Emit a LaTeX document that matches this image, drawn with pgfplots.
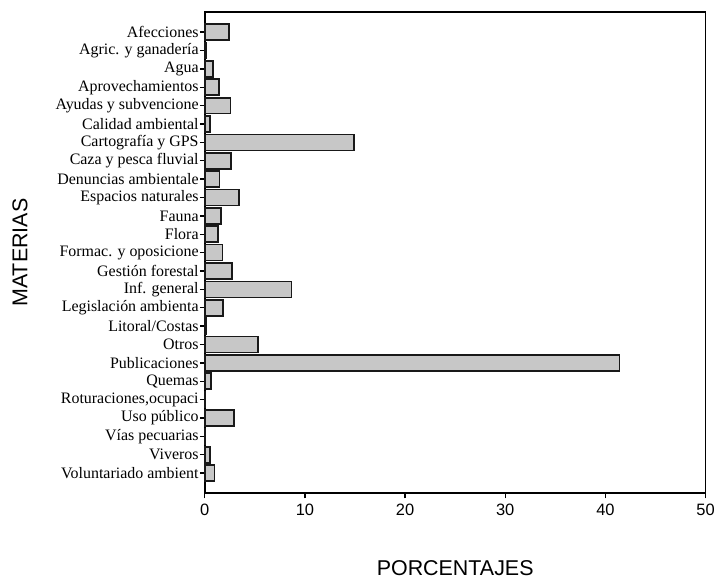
\documentclass[border=0pt]{standalone}
\usepackage{fontspec}
\setmainfont{Liberation Serif}
\newfontfamily\arialfont{Liberation Sans}
\usepackage{pgfplots}
\pgfplotsset{compat=1.18}
\usepackage{pgfplotstable}
\pgfplotstableread{
idx val
0 2.4
1 0.1
2 0.8
3 1.45
4 2.58
5 0.5
6 14.9
7 2.6
8 1.47
9 3.4
10 1.6
11 1.3
12 1.77
13 2.75
14 8.67
15 1.8
16 0.12
17 5.32
18 41.4
19 0.65
20 0.05
21 2.94
22 0.05
23 0.51
24 0.98
}\datatable
\begin{document}
\begin{tikzpicture}
\begin{axis}[
  scale only axis,
  width=502.5bp, height=483bp,
  xmin=0, xmax=50,
  ymin=-1.1, ymax=25.1,
  y dir=reverse,
  xbar, bar width=0.87,
  xtick={0,10,20,30,40,50},
  ytick={0,...,24},
  yticklabels={Afecciones,Agric. y ganadería\ ,Agua\ ,Aprovechamientos,Ayudas y subvencione\ ,Calidad ambiental\ ,Cartografía y GPS\ ,Caza y pesca fluvial,Denuncias ambientale,Espacios naturales,Fauna\ ,Flora\ ,Formac. y oposicione\ ,Gestión forestal,Inf. general,Legislación ambienta\ ,Litoral/Costas\ ,Otros\ ,Publicaciones\ ,Quemas\ ,{Roturaciones,ocupaci},Uso público\ ,Vías pecuarias,Viveros\ ,Voluntariado ambient},
  tick align=outside,
  major tick length=5bp,
  tick style={line width=1.4bp, black},
  xtick pos=bottom, ytick pos=left,
  axis line style={line width=1.6bp},
  /pgf/number format/assume math mode=true,
  xticklabel style={font=\arialfont\fontsize{16.5bp}{19bp}\selectfont, yshift=-2bp},
  yticklabel style={font=\fontsize{16bp}{18bp}\selectfont, inner sep=1bp},
  xlabel={PORCENTAJES},
  ylabel={MATERIAS},
  label style={font=\arialfont\fontsize{21.5bp}{24bp}\selectfont},
  xlabel style={at={(axis description cs:0.5,-0.1698)}, anchor=base},
  ylabel style={at={(axis description cs:-0.3692,0.5)}, anchor=center, rotate=0},
  clip=false,
]
\addplot[fill=black!22, draw=black!90, line width=1.7bp] table[x=val, y=idx] {\datatable};
\end{axis}
\path[use as bounding box] (-205.5bp,-83bp) rectangle (512.5bp,495bp);
\end{tikzpicture}
\end{document}
